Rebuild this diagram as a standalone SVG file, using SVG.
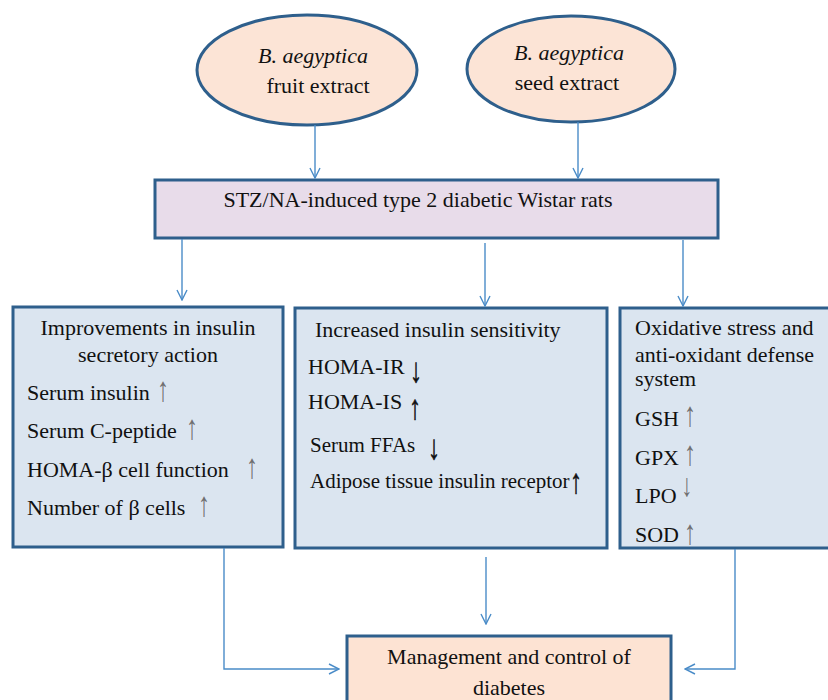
<svg xmlns="http://www.w3.org/2000/svg" width="828" height="700" viewBox="0 0 828 700">
<style>
.t{font-family:"Liberation Serif","Times New Roman",serif;font-size:22px;fill:#111}
.s{font-size:21px}
.c{text-anchor:middle}
.ar{font-family:"Liberation Serif","DejaVu Serif",serif;font-size:24px;text-anchor:middle}
.g{fill:#6f6f6f}
.k{fill:#111;stroke:#111;stroke-width:0.4}
.box{stroke:#2e5f8c;stroke-width:3}
.con{fill:none;stroke:#4a8cc8;stroke-width:1.4}
</style>
<defs>
<marker id="a" viewBox="0 0 12 12" refX="11" refY="6" markerWidth="12" markerHeight="12" markerUnits="userSpaceOnUse" orient="auto">
<path d="M1,1 L11,6 L1,11" fill="none" stroke="#4a8cc8" stroke-width="1.4"/>
</marker>
</defs>
<rect width="828" height="700" fill="#fff"/>
<g id="fruit">
<ellipse class="box" cx="307" cy="70" rx="110" ry="55" fill="#fce4d6"/>
<text class="t c" x="313" y="63"><tspan font-style="italic">B. aegyptica</tspan></text>
<text class="t c" x="318" y="93">fruit extract</text>
</g>
<g id="seed">
<ellipse class="box" cx="571" cy="69" rx="104" ry="53" fill="#fce4d6"/>
<text class="t c" x="569" y="60"><tspan font-style="italic">B. aegyptica</tspan></text>
<text class="t c" x="567" y="90">seed extract</text>
</g>
<g id="stz">
<rect class="box" x="155" y="180" width="563" height="58" fill="#e8dcea"/>
<text class="t c" x="418" y="207">STZ/NA-induced type 2 diabetic Wistar rats</text>
</g>
<g id="secretory">
<rect class="box" x="13" y="307" width="270" height="240" fill="#dbe5f0"/>
<text class="t c" x="148" y="335">Improvements in insulin</text>
<text class="t c" x="148" y="362">secretory action</text>
<text class="t" x="27" y="400">Serum insulin</text>
<text class="ar g" transform="translate(163,401) scale(1,1.45)">↑</text>
<text class="t" x="27" y="438">Serum C-peptide</text>
<text class="ar g" transform="translate(192,439) scale(1,1.45)">↑</text>
<text class="t" x="27" y="477">HOMA-β cell function</text>
<text class="ar g" transform="translate(252,478) scale(1,1.45)">↑</text>
<text class="t" x="27" y="515">Number of β cells</text>
<text class="ar g" transform="translate(204,516) scale(1,1.45)">↑</text>
</g>
<g id="sensitivity">
<rect class="box" x="295" y="308" width="312" height="240" fill="#dbe5f0"/>
<text class="t" x="315" y="337">Increased insulin sensitivity</text>
<text class="t" x="308" y="374">HOMA-IR</text>
<text class="ar k" transform="translate(416,382) scale(1,1.45)">↓</text>
<text class="t" x="308" y="409">HOMA-IS</text>
<text class="ar k" transform="translate(415,419) scale(1,1.45)">↑</text>
<text class="t s" x="310" y="452">Serum FFAs</text>
<text class="ar k" transform="translate(434,459) scale(1,1.45)">↓</text>
<text class="t s" x="310" y="488">Adipose tissue insulin receptor</text>
<text class="ar k" transform="translate(576,493) scale(1,1.45)">↑</text>
</g>
<g id="oxidative">
<rect class="box" x="620" y="308" width="212" height="240" fill="#dbe5f0"/>
<text class="t" x="635" y="335">Oxidative stress and</text>
<text class="t" x="635" y="362">anti-oxidant defense</text>
<text class="t" x="635" y="386">system</text>
<text class="t" x="635" y="426">GSH</text>
<text class="ar g" transform="translate(690,426) scale(1,1.45)">↑</text>
<text class="t" x="635" y="465">GPX</text>
<text class="ar g" transform="translate(690,465) scale(1,1.45)">↑</text>
<text class="t" x="635" y="503">LPO</text>
<text class="ar g" style="font-size:22px" transform="translate(687,496) scale(1,1.45)">↓</text>
<text class="t" x="635" y="542">SOD</text>
<text class="ar g" transform="translate(690,544) scale(1,1.45)">↑</text>
</g>
<g id="management">
<rect class="box" x="347" y="636" width="324" height="80" fill="#fde3d3"/>
<text class="t c" x="509" y="664">Management and control of</text>
<text class="t c" x="509" y="695">diabetes</text>
</g>
<g id="connectors">
<path class="con" d="M315,125 V178" marker-end="url(#a)"/>
<path class="con" d="M578,122 V178" marker-end="url(#a)"/>
<path class="con" d="M182,239 V300" marker-end="url(#a)"/>
<path class="con" d="M485,243 V306" marker-end="url(#a)"/>
<path class="con" d="M683,240 V306" marker-end="url(#a)"/>
<path class="con" d="M486,557 V624" marker-end="url(#a)"/>
<path class="con" d="M224,548 V669 H339" marker-end="url(#a)"/>
<path class="con" d="M735,549 V669 H685" marker-end="url(#a)"/>
</g>
</svg>
